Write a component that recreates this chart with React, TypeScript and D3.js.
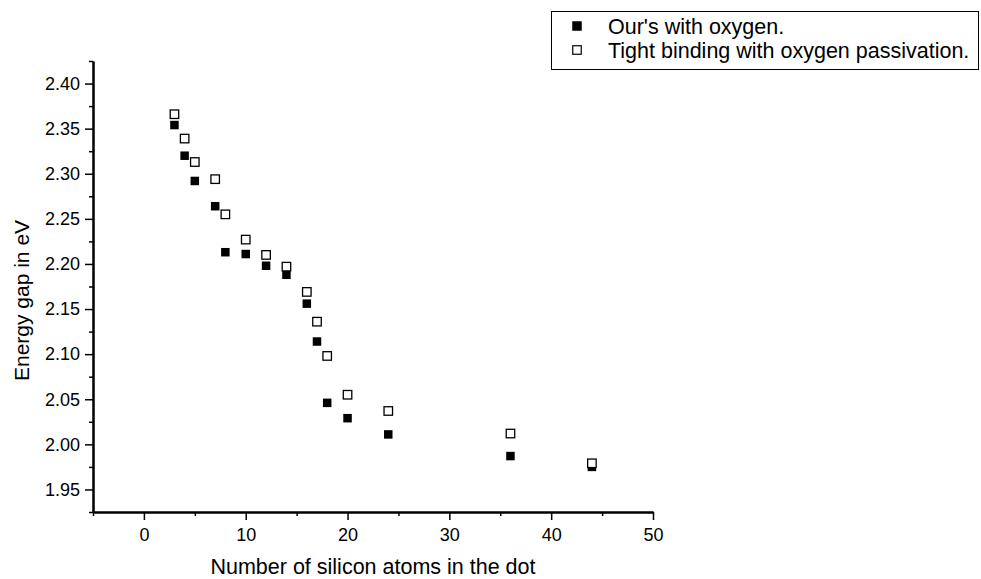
import { Component, createRef } from "react";
import * as d3 from "d3";

// number of Si atoms in the dot
const atoms = [3, 4, 5, 7, 8, 10, 12, 14, 16, 17, 18, 20, 24, 36, 44];
const oursOxygen = [2.354, 2.32, 2.292, 2.264, 2.213, 2.211, 2.198, 2.188, 2.156, 2.114, 2.046, 2.029, 2.011, 1.987, 1.975];
const tightBinding = [2.366, 2.339, 2.313, 2.294, 2.255, 2.227, 2.21, 2.197, 2.169, 2.136, 2.098, 2.055, 2.037, 2.012, 1.979];

const xMajor = [0, 10, 20, 30, 40, 50];
const xMinor = [-5, 5, 15, 25, 35, 45];
const yMajor = [1.95, 2.0, 2.05, 2.1, 2.15, 2.2, 2.25, 2.3, 2.35, 2.4];
const yMinor = [1.925, 1.975, 2.025, 2.075, 2.125, 2.175, 2.225, 2.275, 2.325, 2.375, 2.425];

const legendLabels = ["Our's with oxygen.", "Tight binding with oxygen passivation."];
const xTitle = "Number of silicon atoms in the dot";
const yTitle = "Energy gap in eV";

const FONT = "'Liberation Sans', Arial, sans-serif";

class GapChart extends Component<any> {
  myRef: any;
  svg: any;
  width: number;
  height: number;
  constructor(props: any) {
    super(props);
    this.myRef = createRef();
    this.width = 981;
    this.height = 579;
  }

  init = () => {
    const root = this.myRef.current;
    d3.select(root).selectAll("*").remove();
    this.svg = d3
      .select(root)
      .append("svg")
      .attr("width", this.width)
      .attr("height", this.height)
      .style("position", "absolute")
      .style("left", 0)
      .style("top", 0)
      .style("background", "white")
      .style("font-family", FONT);
  };

  drawAxis(x: any, y: any) {
    const g = this.svg.append("g");

    // minor ticks first, no labels
    g.append("g")
      .attr("transform", `translate(0 ${y.range()[0]})`)
      .call(d3.axisBottom(x).tickValues(xMinor).tickSize(4).tickSizeOuter(0).tickFormat(() => ""));
    g.append("g")
      .attr("transform", `translate(${x.range()[0]} 0)`)
      .call(d3.axisLeft(y).tickValues(yMinor).tickSize(4).tickSizeOuter(0).tickFormat(() => ""));

    const xa = g
      .append("g")
      .attr("transform", `translate(0 ${y.range()[0]})`)
      .call(d3.axisBottom(x).tickValues(xMajor).tickSize(8).tickSizeOuter(0).tickPadding(8).tickFormat(d3.format("d")));
    const ya = g
      .append("g")
      .attr("transform", `translate(${x.range()[0]} 0)`)
      .call(d3.axisLeft(y).tickValues(yMajor).tickSize(8).tickSizeOuter(0).tickPadding(5).tickFormat(d3.format(".2f")));

    [xa, ya].forEach((a) => {
      a.selectAll("text").attr("font-size", 18).attr("font-family", FONT).attr("fill", "#000");
    });
    g.selectAll(".domain").attr("stroke", "#000").attr("stroke-width", 2);
    g.selectAll(".tick line").attr("stroke", "#000").attr("stroke-width", 1.5);

    this.svg
      .append("text")
      .attr("x", (x.range()[0] + x.range()[1]) / 2)
      .attr("y", 574)
      .attr("text-anchor", "middle")
      .attr("font-size", 21.5)
      .text(xTitle);

    this.svg
      .append("text")
      .attr("transform", `translate(29 ${(y.range()[0] + y.range()[1]) / 2 + 14}) rotate(-90)`)
      .attr("text-anchor", "middle")
      .attr("font-size", 21)
      .text(yTitle);
  }

  drawPoints = (xs: number[], ys: number[], x: any, y: any, filled: boolean) => {
    const s = 8.5;
    this.svg
      .append("g")
      .selectAll("rect")
      .data(xs.map((v, i) => [v, ys[i]]))
      .enter()
      .append("rect")
      .attr("x", (d: number[]) => x(d[0]) - s / 2)
      .attr("y", (d: number[]) => y(d[1]) - s / 2)
      .attr("width", s)
      .attr("height", s)
      .attr("fill", filled ? "#000" : "#fff")
      .attr("stroke", "#000")
      .attr("stroke-width", filled ? 0 : 1.3);
  };

  drawLegend() {
    const lg = this.svg.append("g");
    lg.append("rect")
      .attr("x", 551.5)
      .attr("y", 11.5)
      .attr("width", 427)
      .attr("height", 58)
      .attr("fill", "#fff")
      .attr("stroke", "#000")
      .attr("stroke-width", 1);
    legendLabels.forEach((label, i) => {
      const cy = 26 + i * 24;
      const s = i === 0 ? 9.5 : 8.5;
      lg.append("rect")
        .attr("x", 577 - s / 2)
        .attr("y", cy - s / 2)
        .attr("width", s)
        .attr("height", s)
        .attr("fill", i === 0 ? "#000" : "#fff")
        .attr("stroke", "#000")
        .attr("stroke-width", i === 0 ? 0 : 1.2);
      lg.append("text")
        .attr("x", 608)
        .attr("y", cy + 7.5)
        .attr("font-size", 21.5)
        .text(label);
    });
  }

  paint = () => {
    const x = d3.scaleLinear().domain([-5, 50]).range([93, 653]);
    const y = d3.scaleLinear().domain([1.925, 2.425]).range([512, 61]);
    this.drawAxis(x, y);
    this.drawPoints(atoms, oursOxygen, x, y, true);
    this.drawPoints(atoms, tightBinding, x, y, false);
    this.drawLegend();
  };

  componentDidMount() {
    this.init();
    this.paint();
  }

  render() {
    return <div ref={this.myRef}></div>;
  }
}

export default function App() {
  return <GapChart />;
}
